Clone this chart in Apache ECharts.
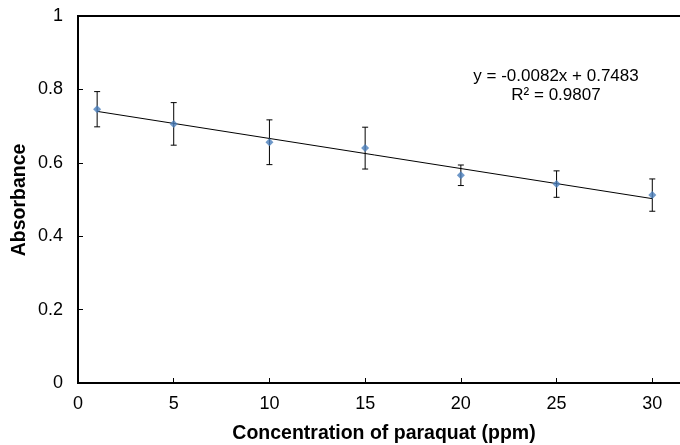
<!DOCTYPE html>
<html>
<head>
<meta charset="utf-8">
<script src="https://cdn.jsdelivr.net/npm/echarts@6/dist/echarts.min.js"></script>
<style>
html, body { margin: 0; padding: 0; background: #fff; }
#chart { width: 680px; height: 445px; }
</style>
</head>
<body>
<div id="chart"></div>
<script>
// concentration of paraquat (ppm)
var conc = [1, 5, 10, 15, 20, 25, 30];
// mean absorbance
var absorb = [0.746, 0.706, 0.656, 0.640, 0.566, 0.542, 0.512];
// error (+/-)
var errs = [0.048, 0.058, 0.061, 0.057, 0.028, 0.036, 0.044];
// linear trendline from the displayed equation
var slope = [-0.0082];
var intercept = [0.7483];
var r2 = ['0.9807'];

var myChart = echarts.init(document.getElementById('chart'));

var points = conc.map(function (x, i) { return [x, absorb[i]]; });
var bars = conc.map(function (x, i) { return [x, absorb[i] - errs[i], absorb[i] + errs[i]]; });
var xFirst = conc[0], xLast = conc[conc.length - 1];
var trend = [
    [xFirst, slope[0] * xFirst + intercept[0]],
    [xLast, slope[0] * xLast + intercept[0]]
];

var font = 'Liberation Sans, Arial, sans-serif';

var option = {
    animation: false,
    backgroundColor: '#fff',
    grid: {
        left: 78,
        top: 16,
        width: 670,
        height: 367,
        outerBoundsMode: 'none',
        containLabel: false,
        show: true,
        borderColor: '#000',
        borderWidth: 2
    },
    xAxis: {
        type: 'value',
        min: 0,
        max: 35,
        interval: 5,
        axisLine: { lineStyle: { color: '#000', width: 2 } },
        axisTick: { inside: true, length: 5, lineStyle: { color: '#000', width: 1 } },
        axisLabel: { color: '#000', fontSize: 18, fontFamily: font, margin: 12 },
        splitLine: { show: false }
    },
    yAxis: {
        type: 'value',
        min: 0,
        max: 1,
        interval: 0.2,
        axisLine: { lineStyle: { color: '#000', width: 2 } },
        axisTick: { inside: true, length: 5, lineStyle: { color: '#000', width: 1 } },
        axisLabel: { color: '#000', fontSize: 18, fontFamily: font, margin: 15 },
        splitLine: { show: false }
    },
    graphic: [
        {
            type: 'text',
            x: 384, y: 434,
            style: {
                text: 'Concentration of paraquat (ppm)',
                font: 'bold 19.5px ' + font,
                fill: '#000',
                align: 'center',
                verticalAlign: 'middle'
            }
        },
        {
            type: 'text',
            x: 20, y: 200,
            rotation: Math.PI / 2,
            style: {
                text: 'Absorbance',
                font: 'bold 19.5px ' + font,
                fill: '#000',
                align: 'center',
                verticalAlign: 'middle'
            }
        },
        {
            type: 'text',
            x: 556, y: 86,
            style: {
                text: 'y = ' + slope[0] + 'x + ' + intercept[0] + '\nR² = ' + r2[0],
                font: '17px ' + font,
                lineHeight: 19,
                fill: '#000',
                align: 'center',
                verticalAlign: 'middle'
            }
        }
    ],
    series: [
        {
            name: 'trend',
            type: 'line',
            data: trend,
            showSymbol: false,
            lineStyle: { color: '#000', width: 1 },
            z: 2
        },
        {
            name: 'error',
            type: 'custom',
            data: bars,
            z: 3,
            renderItem: function (params, api) {
                var x = api.value(0);
                var lo = api.coord([x, api.value(1)]);
                var hi = api.coord([x, api.value(2)]);
                var cap = 3;
                var st = { stroke: '#000', lineWidth: 1 };
                return {
                    type: 'group',
                    children: [
                        { type: 'line', shape: { x1: lo[0], y1: lo[1], x2: hi[0], y2: hi[1] }, style: st },
                        { type: 'line', shape: { x1: lo[0] - cap, y1: lo[1], x2: lo[0] + cap, y2: lo[1] }, style: st },
                        { type: 'line', shape: { x1: hi[0] - cap, y1: hi[1], x2: hi[0] + cap, y2: hi[1] }, style: st }
                    ]
                };
            }
        },
        {
            name: 'Absorbance',
            type: 'scatter',
            data: points,
            symbol: 'diamond',
            symbolSize: 8,
            itemStyle: { color: '#4A7EBB' },
            z: 4
        }
    ]
};
myChart.setOption(option);
window.addEventListener('resize', function () {
    myChart.resize();
});
</script>
</body>
</html>
